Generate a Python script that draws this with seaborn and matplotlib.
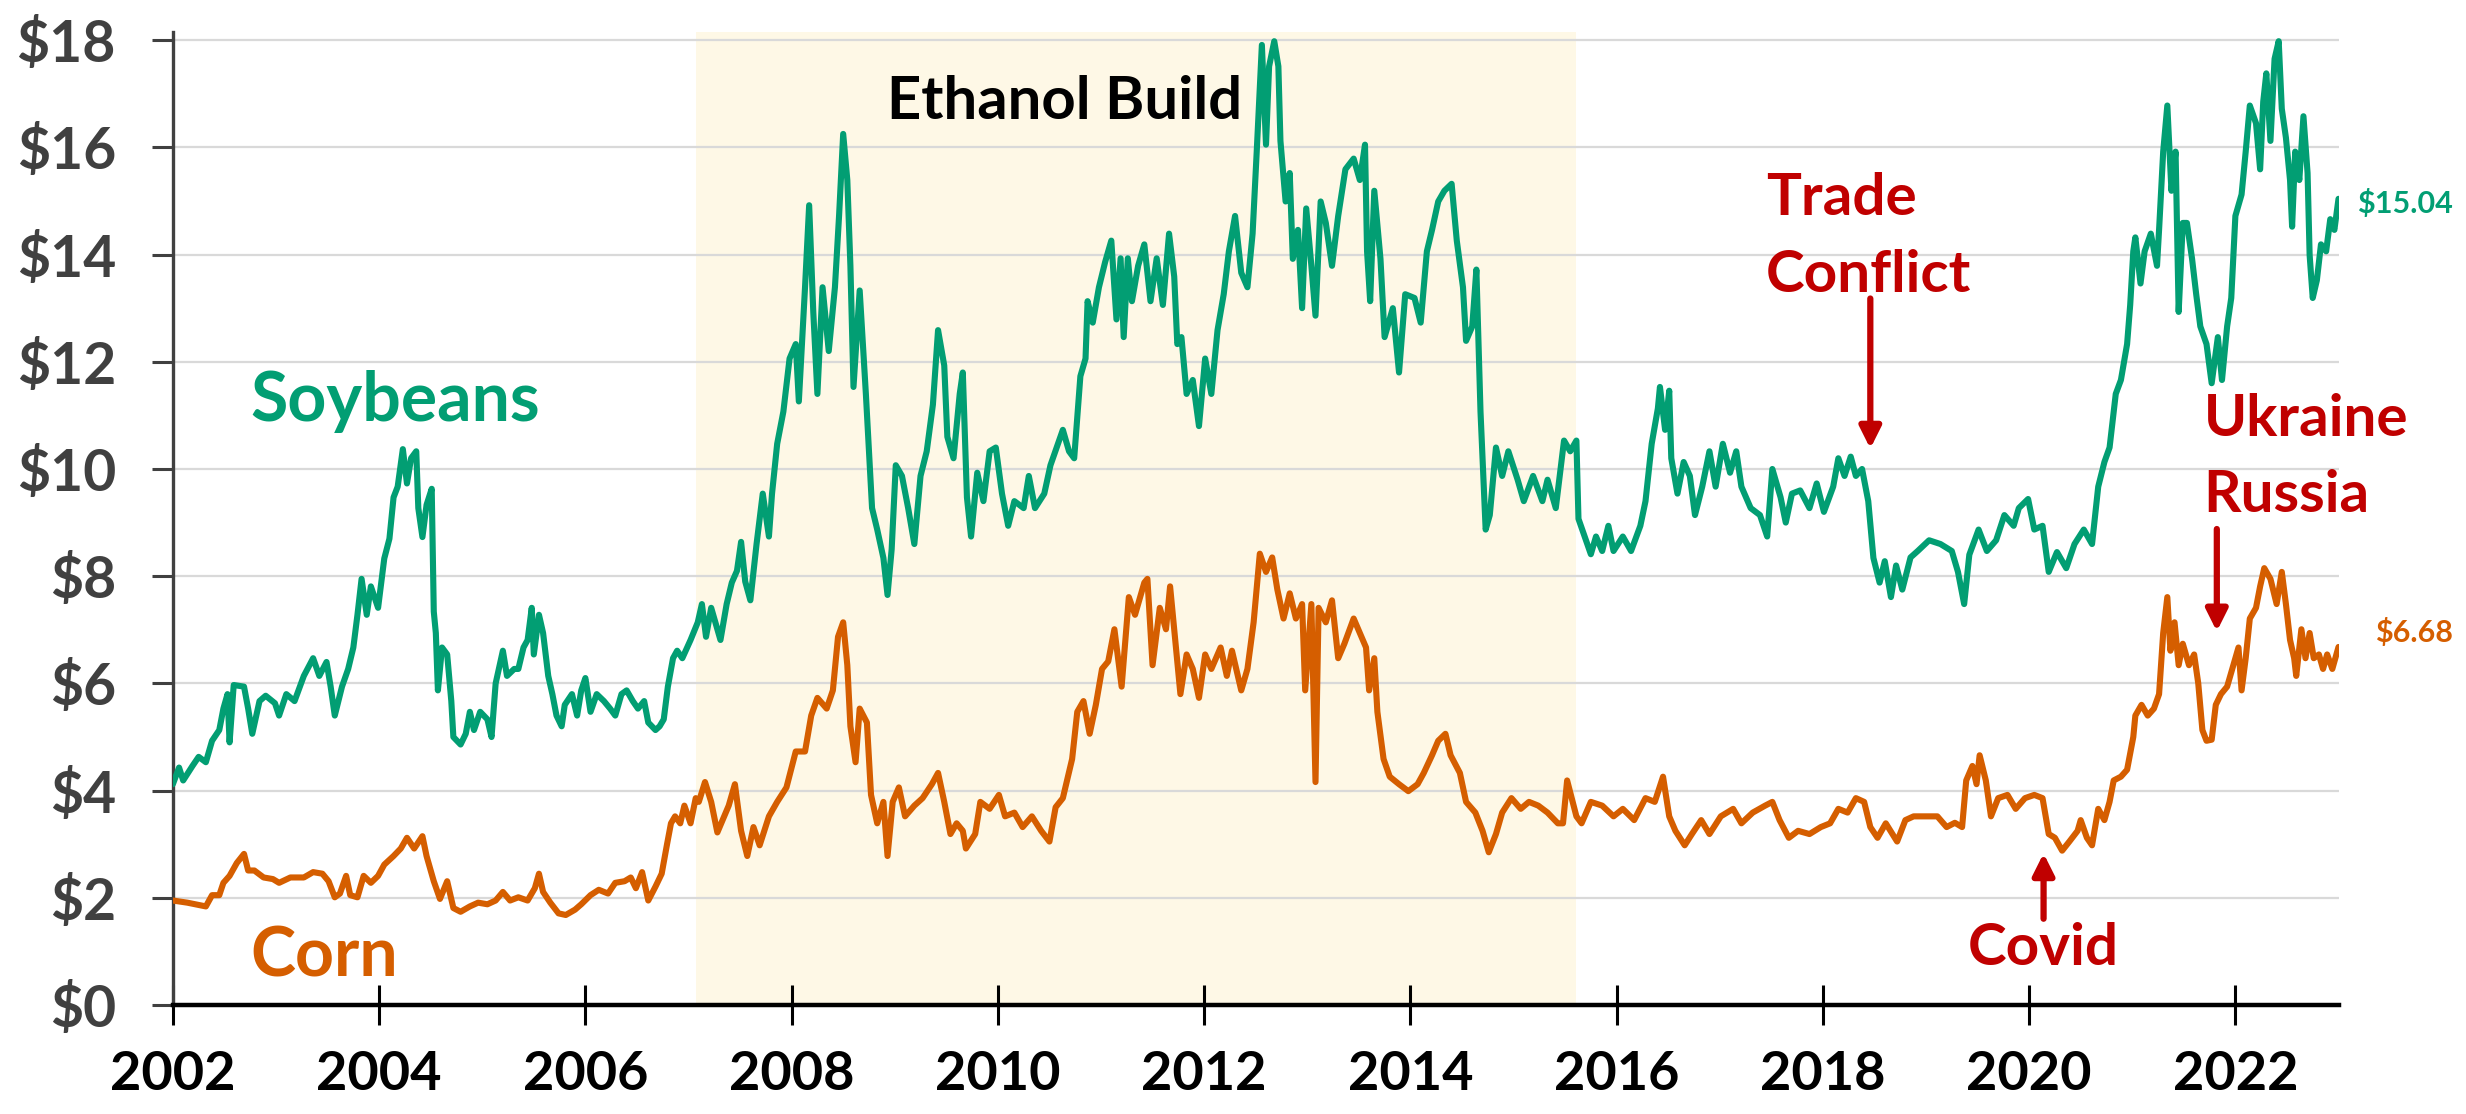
import matplotlib
matplotlib.use("Agg")
import matplotlib.pyplot as plt
import seaborn as sns

# decimal year / price in $ per bushel
soy_t = [2002.00, 2002.06, 2002.10, 2002.19, 2002.25, 2002.32, 2002.38, 2002.45, 2002.49, 2002.53,
         2002.55, 2002.59, 2002.69, 2002.73, 2002.77, 2002.84, 2002.90, 2002.99, 2003.03, 2003.10,
         2003.18, 2003.27, 2003.36, 2003.42, 2003.49, 2003.53, 2003.57, 2003.64, 2003.70, 2003.75,
         2003.79, 2003.83, 2003.88, 2003.92, 2003.99, 2004.05, 2004.10, 2004.14, 2004.18, 2004.23,
         2004.27, 2004.31, 2004.36, 2004.38, 2004.42, 2004.46, 2004.51, 2004.53, 2004.55, 2004.57,
         2004.61, 2004.66, 2004.70, 2004.72, 2004.79, 2004.84, 2004.88, 2004.92, 2004.98, 2005.05,
         2005.09, 2005.13, 2005.20, 2005.24, 2005.31, 2005.35, 2005.40, 2005.44, 2005.48, 2005.50,
         2005.55, 2005.59, 2005.64, 2005.68, 2005.72, 2005.77, 2005.80, 2005.87, 2005.92, 2005.96,
         2006.00, 2006.05, 2006.11, 2006.18, 2006.24, 2006.29, 2006.35, 2006.40, 2006.46, 2006.51,
         2006.57, 2006.61, 2006.68, 2006.72, 2006.76, 2006.80, 2006.85, 2006.89, 2006.94, 2007.02,
         2007.09, 2007.13, 2007.17, 2007.22, 2007.31, 2007.37, 2007.42, 2007.47, 2007.51, 2007.55,
         2007.60, 2007.66, 2007.72, 2007.78, 2007.81, 2007.86, 2007.92, 2007.98, 2008.04, 2008.07,
         2008.13, 2008.17, 2008.21, 2008.25, 2008.30, 2008.36, 2008.42, 2008.46, 2008.50, 2008.54,
         2008.57, 2008.60, 2008.66, 2008.72, 2008.78, 2008.83, 2008.89, 2008.93, 2008.97, 2009.01,
         2009.07, 2009.13, 2009.19, 2009.25, 2009.31, 2009.37, 2009.42, 2009.48, 2009.51, 2009.57,
         2009.63, 2009.66, 2009.70, 2009.74, 2009.80, 2009.86, 2009.92, 2009.98, 2010.04, 2010.10,
         2010.16, 2010.25, 2010.30, 2010.36, 2010.45, 2010.51, 2010.57, 2010.63, 2010.69, 2010.74,
         2010.80, 2010.85, 2010.87, 2010.92, 2010.98, 2011.04, 2011.10, 2011.15, 2011.19, 2011.22,
         2011.26, 2011.30, 2011.36, 2011.42, 2011.48, 2011.54, 2011.60, 2011.66, 2011.71, 2011.74,
         2011.78, 2011.83, 2011.89, 2011.95, 2012.01, 2012.07, 2012.13, 2012.19, 2012.24, 2012.30,
         2012.36, 2012.42, 2012.47, 2012.51, 2012.56, 2012.60, 2012.63, 2012.68, 2012.72, 2012.74,
         2012.79, 2012.83, 2012.86, 2012.91, 2012.95, 2012.99, 2013.04, 2013.08, 2013.13, 2013.18,
         2013.24, 2013.30, 2013.37, 2013.45, 2013.51, 2013.56, 2013.58, 2013.61, 2013.65, 2013.71,
         2013.75, 2013.83, 2013.89, 2013.95, 2014.04, 2014.10, 2014.16, 2014.21, 2014.27, 2014.33,
         2014.40, 2014.45, 2014.51, 2014.54, 2014.60, 2014.64, 2014.68, 2014.73, 2014.77, 2014.83,
         2014.89, 2014.95, 2015.04, 2015.10, 2015.19, 2015.28, 2015.33, 2015.41, 2015.49, 2015.55,
         2015.61, 2015.63, 2015.69, 2015.75, 2015.80, 2015.86, 2015.92, 2015.97, 2016.06, 2016.14,
         2016.23, 2016.28, 2016.34, 2016.40, 2016.42, 2016.47, 2016.51, 2016.53, 2016.59, 2016.65,
         2016.71, 2016.76, 2016.83, 2016.90, 2016.96, 2017.03, 2017.10, 2017.16, 2017.21, 2017.30,
         2017.39, 2017.46, 2017.51, 2017.59, 2017.64, 2017.70, 2017.78, 2017.87, 2017.94, 2018.01,
         2018.10, 2018.15, 2018.21, 2018.27, 2018.32, 2018.38, 2018.44, 2018.49, 2018.55, 2018.60,
         2018.66, 2018.71, 2018.77, 2018.85, 2018.92, 2019.03, 2019.14, 2019.25, 2019.31, 2019.37,
         2019.42, 2019.51, 2019.59, 2019.68, 2019.76, 2019.85, 2019.90, 2019.99, 2020.05, 2020.13,
         2020.19, 2020.27, 2020.36, 2020.44, 2020.53, 2020.61, 2020.67, 2020.73, 2020.78, 2020.84,
         2020.89, 2020.95, 2020.98, 2021.01, 2021.03, 2021.08, 2021.12, 2021.18, 2021.24, 2021.26,
         2021.30, 2021.34, 2021.38, 2021.42, 2021.45, 2021.49, 2021.53, 2021.58, 2021.62, 2021.66,
         2021.72, 2021.77, 2021.83, 2021.87, 2021.92, 2021.96, 2022.00, 2022.06, 2022.10, 2022.14,
         2022.20, 2022.24, 2022.27, 2022.30, 2022.34, 2022.38, 2022.42, 2022.45, 2022.49, 2022.53,
         2022.55, 2022.58, 2022.62, 2022.66, 2022.70, 2022.72, 2022.75, 2022.79, 2022.83, 2022.88,
         2022.92, 2022.96, 2023.00]
soy_v = [4.12, 4.43, 4.19, 4.46, 4.63, 4.53, 4.93, 5.13, 5.53, 5.80,
         4.90, 5.97, 5.94, 5.53, 5.06, 5.67, 5.77, 5.63, 5.40, 5.80,
         5.67, 6.14, 6.47, 6.14, 6.40, 5.94, 5.40, 5.94, 6.27, 6.67,
         7.28, 7.95, 7.28, 7.81, 7.41, 8.33, 8.70, 9.47, 9.67, 10.37,
         9.73, 10.20, 10.33, 9.27, 8.73, 9.33, 9.63, 7.34, 6.94, 5.87,
         6.67, 6.54, 5.67, 5.00, 4.86, 5.06, 5.47, 5.13, 5.47, 5.33,
         5.00, 6.00, 6.61, 6.14, 6.27, 6.27, 6.67, 6.81, 7.41, 6.54,
         7.28, 6.94, 6.14, 5.80, 5.40, 5.20, 5.60, 5.80, 5.40, 5.87,
         6.10, 5.47, 5.80, 5.67, 5.53, 5.40, 5.80, 5.87, 5.67, 5.53,
         5.67, 5.27, 5.13, 5.20, 5.33, 5.94, 6.47, 6.61, 6.47, 6.81,
         7.14, 7.48, 6.87, 7.41, 6.81, 7.48, 7.88, 8.10, 8.64, 7.90,
         7.55, 8.60, 9.54, 8.74, 9.54, 10.47, 11.07, 12.06, 12.33, 11.26,
         13.39, 14.92, 12.93, 11.40, 13.39, 12.20, 13.39, 14.72, 16.25, 15.39,
         13.79, 11.53, 13.33, 11.40, 9.27, 8.87, 8.34, 7.65, 8.50, 10.07,
         9.87, 9.27, 8.60, 9.87, 10.33, 11.20, 12.59, 11.93, 10.60, 10.20,
         11.40, 11.80, 9.47, 8.74, 9.93, 9.40, 10.33, 10.40, 9.54, 8.94,
         9.40, 9.27, 9.87, 9.27, 9.54, 10.07, 10.40, 10.73, 10.33, 10.20,
         11.73, 12.06, 13.13, 12.73, 13.39, 13.86, 14.26, 12.79, 13.93, 12.46,
         13.93, 13.13, 13.79, 14.19, 13.13, 13.93, 13.06, 14.39, 13.59, 12.33,
         12.46, 11.40, 11.66, 10.80, 12.06, 11.40, 12.59, 13.26, 14.06, 14.72,
         13.66, 13.39, 14.39, 15.92, 17.91, 16.05, 17.51, 17.98, 17.51, 16.12,
         14.99, 15.52, 13.92, 14.46, 13.00, 14.86, 13.79, 12.86, 14.99, 14.59,
         13.79, 14.72, 15.59, 15.79, 15.39, 16.05, 14.06, 13.13, 15.19, 13.92,
         12.46, 13.00, 11.80, 13.26, 13.19, 12.73, 14.06, 14.46, 14.99, 15.19,
         15.32, 14.26, 13.39, 12.39, 12.66, 13.72, 11.07, 8.87, 9.14, 10.40,
         9.87, 10.33, 9.80, 9.40, 9.87, 9.40, 9.80, 9.27, 10.53, 10.33,
         10.53, 9.07, 8.74, 8.41, 8.74, 8.47, 8.94, 8.47, 8.74, 8.47,
         8.94, 9.40, 10.47, 11.13, 11.53, 10.73, 11.46, 10.20, 9.54, 10.13,
         9.87, 9.14, 9.67, 10.33, 9.67, 10.47, 9.93, 10.33, 9.67, 9.27,
         9.14, 8.74, 10.00, 9.47, 9.00, 9.54, 9.60, 9.27, 9.73, 9.20,
         9.67, 10.20, 9.87, 10.23, 9.87, 10.00, 9.40, 8.34, 7.88, 8.28,
         7.61, 8.20, 7.75, 8.35, 8.47, 8.67, 8.60, 8.47, 8.08, 7.48,
         8.40, 8.87, 8.47, 8.67, 9.14, 8.94, 9.27, 9.44, 8.87, 8.94,
         8.08, 8.45, 8.15, 8.60, 8.87, 8.60, 9.67, 10.13, 10.40, 11.40,
         11.66, 12.33, 13.06, 14.06, 14.32, 13.46, 14.06, 14.39, 13.79, 14.46,
         15.92, 16.78, 15.19, 15.92, 12.93, 14.59, 14.59, 13.92, 13.26, 12.66,
         12.33, 11.60, 12.46, 11.66, 12.66, 13.19, 14.72, 15.12, 15.92, 16.78,
         16.45, 15.59, 16.85, 17.38, 16.12, 17.65, 17.98, 16.72, 16.18, 15.39,
         14.52, 15.92, 15.39, 16.58, 15.52, 13.99, 13.19, 13.52, 14.19, 14.06,
         14.66, 14.46, 15.04]

corn_t = [2002.00, 2002.14, 2002.32, 2002.38, 2002.45, 2002.49, 2002.55, 2002.62, 2002.69, 2002.73,
          2002.79, 2002.88, 2002.97, 2003.03, 2003.14, 2003.27, 2003.36, 2003.45, 2003.51, 2003.57,
          2003.62, 2003.68, 2003.72, 2003.79, 2003.85, 2003.92, 2003.99, 2004.05, 2004.14, 2004.21,
          2004.27, 2004.34, 2004.42, 2004.46, 2004.53, 2004.59, 2004.66, 2004.72, 2004.79, 2004.88,
          2004.96, 2005.05, 2005.13, 2005.20, 2005.27, 2005.35, 2005.44, 2005.51, 2005.55, 2005.59,
          2005.66, 2005.74, 2005.81, 2005.90, 2005.96, 2006.05, 2006.13, 2006.22, 2006.29, 2006.38,
          2006.44, 2006.49, 2006.55, 2006.61, 2006.68, 2006.74, 2006.79, 2006.83, 2006.87, 2006.92,
          2006.96, 2007.02, 2007.07, 2007.10, 2007.16, 2007.22, 2007.28, 2007.34, 2007.39, 2007.45,
          2007.51, 2007.57, 2007.63, 2007.69, 2007.78, 2007.86, 2007.95, 2008.04, 2008.13, 2008.19,
          2008.25, 2008.34, 2008.40, 2008.45, 2008.50, 2008.54, 2008.57, 2008.62, 2008.66, 2008.73,
          2008.77, 2008.83, 2008.89, 2008.93, 2008.98, 2009.04, 2009.10, 2009.19, 2009.27, 2009.36,
          2009.42, 2009.48, 2009.54, 2009.60, 2009.66, 2009.69, 2009.78, 2009.83, 2009.92, 2010.01,
          2010.07, 2010.16, 2010.24, 2010.33, 2010.42, 2010.50, 2010.56, 2010.63, 2010.72, 2010.77,
          2010.83, 2010.89, 2010.95, 2011.01, 2011.07, 2011.13, 2011.20, 2011.27, 2011.33, 2011.42,
          2011.45, 2011.50, 2011.57, 2011.63, 2011.67, 2011.73, 2011.77, 2011.83, 2011.89, 2011.95,
          2012.01, 2012.07, 2012.16, 2012.22, 2012.27, 2012.36, 2012.42, 2012.48, 2012.54, 2012.60,
          2012.66, 2012.71, 2012.77, 2012.83, 2012.89, 2012.95, 2012.98, 2013.04, 2013.08, 2013.11,
          2013.18, 2013.24, 2013.30, 2013.36, 2013.45, 2013.51, 2013.57, 2013.60, 2013.65, 2013.68,
          2013.74, 2013.80, 2013.89, 2013.98, 2014.07, 2014.13, 2014.21, 2014.27, 2014.34, 2014.39,
          2014.48, 2014.54, 2014.63, 2014.70, 2014.76, 2014.83, 2014.89, 2014.98, 2015.07, 2015.15,
          2015.24, 2015.33, 2015.43, 2015.48, 2015.52, 2015.61, 2015.66, 2015.75, 2015.86, 2015.97,
          2016.06, 2016.17, 2016.28, 2016.37, 2016.45, 2016.51, 2016.57, 2016.66, 2016.73, 2016.82,
          2016.90, 2017.01, 2017.13, 2017.21, 2017.32, 2017.44, 2017.51, 2017.58, 2017.67, 2017.76,
          2017.87, 2017.98, 2018.07, 2018.15, 2018.24, 2018.32, 2018.40, 2018.46, 2018.53, 2018.61,
          2018.72, 2018.80, 2018.88, 2018.99, 2019.11, 2019.20, 2019.28, 2019.35, 2019.39, 2019.45,
          2019.49, 2019.52, 2019.58, 2019.63, 2019.70, 2019.79, 2019.87, 2019.96, 2020.05, 2020.13,
          2020.19, 2020.25, 2020.32, 2020.39, 2020.47, 2020.50, 2020.56, 2020.61, 2020.67, 2020.73,
          2020.78, 2020.82, 2020.89, 2020.95, 2021.01, 2021.03, 2021.09, 2021.15, 2021.21, 2021.26,
          2021.30, 2021.34, 2021.37, 2021.41, 2021.45, 2021.49, 2021.55, 2021.60, 2021.64, 2021.68,
          2021.72, 2021.77, 2021.81, 2021.86, 2021.92, 2021.97, 2022.03, 2022.06, 2022.10, 2022.14,
          2022.20, 2022.24, 2022.28, 2022.34, 2022.40, 2022.45, 2022.49, 2022.53, 2022.57, 2022.59,
          2022.64, 2022.68, 2022.72, 2022.76, 2022.81, 2022.85, 2022.89, 2022.94, 2023.00]
corn_v = [1.95, 1.91, 1.84, 2.05, 2.05, 2.28, 2.41, 2.65, 2.82, 2.51,
          2.51, 2.38, 2.35, 2.28, 2.38, 2.38, 2.48, 2.45, 2.31, 2.01,
          2.08, 2.41, 2.05, 2.01, 2.41, 2.28, 2.41, 2.62, 2.78, 2.92,
          3.12, 2.92, 3.15, 2.78, 2.31, 1.98, 2.31, 1.81, 1.74, 1.84,
          1.91, 1.88, 1.95, 2.11, 1.95, 2.01, 1.95, 2.18, 2.45, 2.11,
          1.91, 1.71, 1.68, 1.78, 1.88, 2.05, 2.15, 2.08, 2.28, 2.31,
          2.38, 2.18, 2.48, 1.95, 2.21, 2.45, 2.98, 3.39, 3.52, 3.39,
          3.72, 3.39, 3.86, 3.79, 4.16, 3.79, 3.22, 3.49, 3.72, 4.12,
          3.25, 2.78, 3.32, 2.98, 3.52, 3.79, 4.06, 4.73, 4.73, 5.40,
          5.73, 5.53, 5.87, 6.87, 7.14, 6.34, 5.20, 4.53, 5.53, 5.27,
          3.92, 3.39, 3.79, 2.78, 3.79, 4.06, 3.52, 3.72, 3.86, 4.12,
          4.33, 3.79, 3.19, 3.39, 3.25, 2.92, 3.19, 3.79, 3.66, 3.92,
          3.52, 3.59, 3.32, 3.52, 3.25, 3.05, 3.69, 3.86, 4.59, 5.47,
          5.67, 5.06, 5.60, 6.27, 6.41, 7.01, 5.94, 7.61, 7.28, 7.88,
          7.95, 6.34, 7.41, 7.01, 7.81, 6.61, 5.80, 6.54, 6.27, 5.73,
          6.54, 6.27, 6.67, 6.14, 6.61, 5.87, 6.27, 7.14, 8.42, 8.08,
          8.35, 7.75, 7.21, 7.68, 7.21, 7.48, 5.87, 7.48, 4.16, 7.41,
          7.14, 7.55, 6.47, 6.74, 7.21, 6.94, 6.67, 5.87, 6.47, 5.47,
          4.59, 4.26, 4.12, 3.99, 4.12, 4.33, 4.66, 4.93, 5.06, 4.66,
          4.33, 3.79, 3.59, 3.25, 2.85, 3.19, 3.59, 3.86, 3.66, 3.79,
          3.72, 3.59, 3.39, 3.39, 4.19, 3.52, 3.39, 3.79, 3.72, 3.52,
          3.66, 3.45, 3.86, 3.79, 4.26, 3.52, 3.25, 2.98, 3.19, 3.45,
          3.19, 3.52, 3.66, 3.39, 3.59, 3.72, 3.79, 3.45, 3.12, 3.25,
          3.19, 3.32, 3.39, 3.66, 3.59, 3.86, 3.79, 3.32, 3.12, 3.39,
          3.05, 3.45, 3.52, 3.52, 3.52, 3.32, 3.40, 3.32, 4.19, 4.46,
          4.12, 4.66, 4.19, 3.52, 3.86, 3.92, 3.66, 3.86, 3.92, 3.86,
          3.19, 3.12, 2.88, 3.05, 3.25, 3.45, 3.12, 2.98, 3.66, 3.45,
          3.79, 4.19, 4.26, 4.39, 5.00, 5.40, 5.60, 5.40, 5.53, 5.80,
          6.94, 7.61, 6.61, 7.14, 6.34, 6.74, 6.34, 6.54, 6.00, 5.13,
          4.93, 4.95, 5.60, 5.80, 5.94, 6.27, 6.67, 5.87, 6.47, 7.21,
          7.41, 7.81, 8.15, 7.95, 7.48, 8.08, 7.48, 6.81, 6.47, 6.14,
          7.01, 6.47, 6.94, 6.47, 6.54, 6.27, 6.54, 6.27, 6.68]

y_ticks = [0, 2, 4, 6, 8, 10, 12, 14, 16, 18]
x_ticks = [2002, 2004, 2006, 2008, 2010, 2012, 2014, 2016, 2018, 2020, 2022]
ethanol_span = (2007.07, 2015.61)

GREEN = "#029E73"
ORANGE = "#D55E00"
RED = "#C00000"
DARK = "#404040"

# tick marks are switched off by the seaborn white style, turn them back on here
sns.set_style("white", {"xtick.bottom": True, "ytick.left": True,
                        "xtick.direction": "inout", "ytick.direction": "out"})
plt.rcParams["font.family"] = ["Lato", "DejaVu Sans"]
plt.rcParams["font.weight"] = "bold"
plt.rcParams["xtick.major.size"] = 29
plt.rcParams["xtick.major.width"] = 2.2
plt.rcParams["xtick.major.pad"] = 18
plt.rcParams["xtick.color"] = "black"
plt.rcParams["ytick.major.size"] = 15
plt.rcParams["ytick.major.width"] = 2.2
plt.rcParams["ytick.major.pad"] = 26
plt.rcParams["ytick.color"] = DARK

fig = plt.figure(figsize=(24.66, 11.14), dpi=100)
ax = fig.add_axes([0.0701, 0.0978, 0.8782, 0.8734])

ax.axvspan(*ethanol_span, color="#FEF8E6", zorder=0, lw=0)

sns.lineplot(x=soy_t, y=soy_v, ax=ax, color=GREEN, linewidth=4.4, estimator=None, sort=False, zorder=3)
sns.lineplot(x=corn_t, y=corn_v, ax=ax, color=ORANGE, linewidth=4.4, estimator=None, sort=False, zorder=3)

ax.set_xlim(2002, 2023)
ax.set_ylim(0, 18.15)
ax.set_yticks(y_ticks)
ax.set_yticklabels(["${}".format(v) for v in y_ticks])
ax.set_xticks(x_ticks)
ax.set_xticklabels([str(v) for v in x_ticks])
ax.set_xlabel("")
ax.set_ylabel("")

ax.yaxis.grid(True, color="#D9D9D9", linewidth=1.6)
ax.xaxis.grid(False)

for s in ["top", "right"]:
    ax.spines[s].set_visible(False)
ax.spines["left"].set_color(DARK)
ax.spines["left"].set_linewidth(2.4)
ax.spines["bottom"].set_color("black")
ax.spines["bottom"].set_linewidth(3.2)

ax.tick_params(axis="y", left=True, labelsize=41, labelcolor=DARK)
ax.tick_params(axis="x", bottom=True, labelsize=39, labelcolor="black")
for lab in ax.get_xticklabels() + ax.get_yticklabels():
    lab.set_fontweight("bold")

# series names and annotations
ax.text(2002.75, 10.9, "Soybeans", color=GREEN, fontsize=49, fontweight="bold", va="baseline")
ax.text(2002.75, 0.54, "Corn", color=ORANGE, fontsize=49, fontweight="bold", va="baseline")
ax.text(2010.65, 16.53, "Ethanol Build", color="black", fontsize=43, fontweight="bold",
        ha="center", va="baseline")

ax.text(2017.45, 14.74, "Trade", color=RED, fontsize=42, fontweight="bold", va="baseline")
ax.text(2017.45, 13.31, "Conflict", color=RED, fontsize=42, fontweight="bold", va="baseline")
ax.text(2021.69, 10.61, "Ukraine", color=RED, fontsize=42, fontweight="bold", va="baseline")
ax.text(2021.69, 9.19, "Russia", color=RED, fontsize=42, fontweight="bold", va="baseline")
ax.text(2020.14, 0.74, "Covid", color=RED, fontsize=42, fontweight="bold", ha="center", va="baseline")

arrow = dict(arrowstyle="-|>", color=RED, lw=4.5, mutation_scale=32, shrinkA=0, shrinkB=0)
ax.annotate("", xy=(2018.46, 10.38), xytext=(2018.46, 13.18), arrowprops=arrow)
ax.annotate("", xy=(2021.82, 6.97), xytext=(2021.82, 8.88), arrowprops=arrow)
ax.annotate("", xy=(2020.14, 2.83), xytext=(2020.14, 1.61), arrowprops=arrow)

ax.text(2023.18, 14.95, "${:.2f}".format(soy_v[-1]), color=GREEN, fontsize=22,
        fontweight="bold", va="center", clip_on=False)
ax.text(2023.35, 6.95, "${:.2f}".format(corn_v[-1]), color=ORANGE, fontsize=22,
        fontweight="bold", va="center", clip_on=False)

plt.savefig("out.png", dpi=100)
